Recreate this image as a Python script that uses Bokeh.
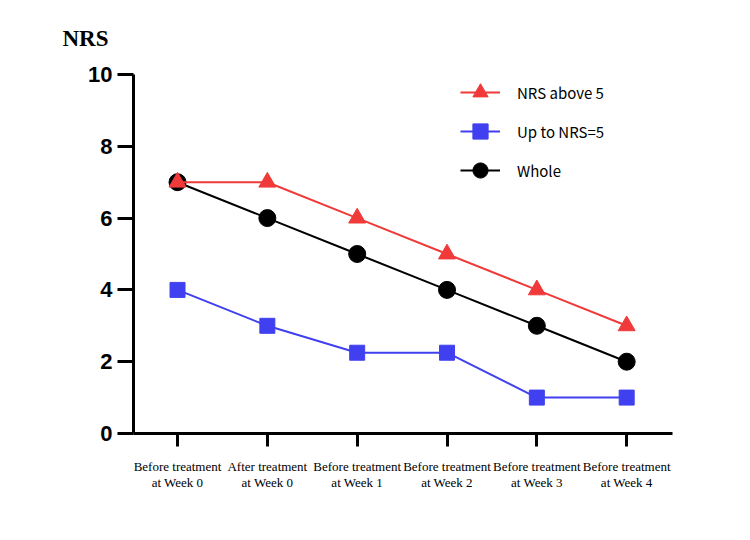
from bokeh.plotting import figure
from bokeh.models import Range1d, FixedTicker, Legend, LegendItem
from bokeh.embed import file_html
from bokeh.resources import INLINE

# Time points and NRS scores per group
timepoints = [
    "Before treatment\nat Week 0",
    "After treatment\nat Week 0",
    "Before treatment\nat Week 1",
    "Before treatment\nat Week 2",
    "Before treatment\nat Week 3",
    "Before treatment\nat Week 4",
]
nrs_above_5 = [7, 7, 6, 5, 4, 3]
up_to_nrs_5 = [4, 3, 2.25, 2.25, 1, 1]
whole = [7, 6, 5, 4, 3, 2]
y_ticks = [0, 2, 4, 6, 8, 10]

xs = list(range(len(timepoints)))

RED = "#f03a3a"
BLUE = "#4040f0"
BLACK = "#000000"

p = figure(
    width=750, height=540,
    output_backend="svg", toolbar_location=None,
    x_range=Range1d(-0.49, 5.51), y_range=Range1d(0, 10),
    min_border_left=133, min_border_right=78,
    min_border_top=74, min_border_bottom=107,
)
p.outline_line_color = None
p.xgrid.visible = False
p.ygrid.visible = False
p.background_fill_color = "white"
p.border_fill_color = "white"

# "NRS" caption at the top-left, above the y axis
p.title.text = "NRS"
p.title.align = "left"
p.title.offset = -71
p.title.standoff = 47
p.title.text_font = "Liberation Serif"
p.title.text_font_style = "bold"
p.title.text_font_size = "23px"
p.title.text_color = "black"

# y axis
p.yaxis.ticker = FixedTicker(ticks=y_ticks)
p.yaxis.minor_tick_line_color = None
p.yaxis.axis_line_width = 3
p.yaxis.major_tick_line_width = 3
p.yaxis.major_tick_out = 16
p.yaxis.major_tick_in = 0
p.yaxis.major_label_standoff = 5
p.yaxis.major_label_text_font = "Liberation Sans"
p.yaxis.major_label_text_font_style = "bold"
p.yaxis.major_label_text_font_size = "22px"
p.yaxis.major_label_text_color = "black"

# x axis
p.xaxis.ticker = FixedTicker(ticks=xs)
p.xaxis.major_label_overrides = {i: t for i, t in enumerate(timepoints)}
p.xaxis.minor_tick_line_color = None
p.xaxis.axis_line_width = 3
p.xaxis.major_tick_line_width = 3
p.xaxis.major_tick_out = 13
p.xaxis.major_tick_in = 0
p.xaxis.major_label_standoff = 12
p.xaxis.major_label_text_font = "Liberation Serif"
p.xaxis.major_label_text_font_size = "13px"
p.xaxis.major_label_text_line_height = 1.1
p.xaxis.major_label_text_color = "black"

# series: whole first, then blue, red on top
l_w = p.line(xs, whole, line_color=BLACK, line_width=2)
m_w = p.scatter(xs, whole, marker="circle", size=17, fill_color=BLACK, line_color=BLACK)

l_b = p.line(xs, up_to_nrs_5, line_color=BLUE, line_width=2)
m_b = p.scatter(xs, up_to_nrs_5, marker="square", size=15, fill_color=BLUE, line_color=BLUE)

l_r = p.line(xs, nrs_above_5, line_color=RED, line_width=2)
m_r = p.scatter(xs, nrs_above_5, marker="triangle", size=17, fill_color=RED, line_color=RED)

legend = Legend(
    items=[
        LegendItem(label="NRS above 5", renderers=[l_r, m_r]),
        LegendItem(label="Up to NRS=5", renderers=[l_b, m_b]),
        LegendItem(label="Whole", renderers=[l_w, m_w]),
    ],
    location=(327, 244),
    glyph_width=40, glyph_height=38, spacing=1,
    label_standoff=17, padding=0, margin=0,
    border_line_color=None, background_fill_alpha=0,
    label_text_font="Noto Sans CJK JP", label_text_font_size="15px",
    label_text_color="black",
)
p.add_layout(legend, "center")

open("out.html", "w").write(file_html(p, INLINE))
